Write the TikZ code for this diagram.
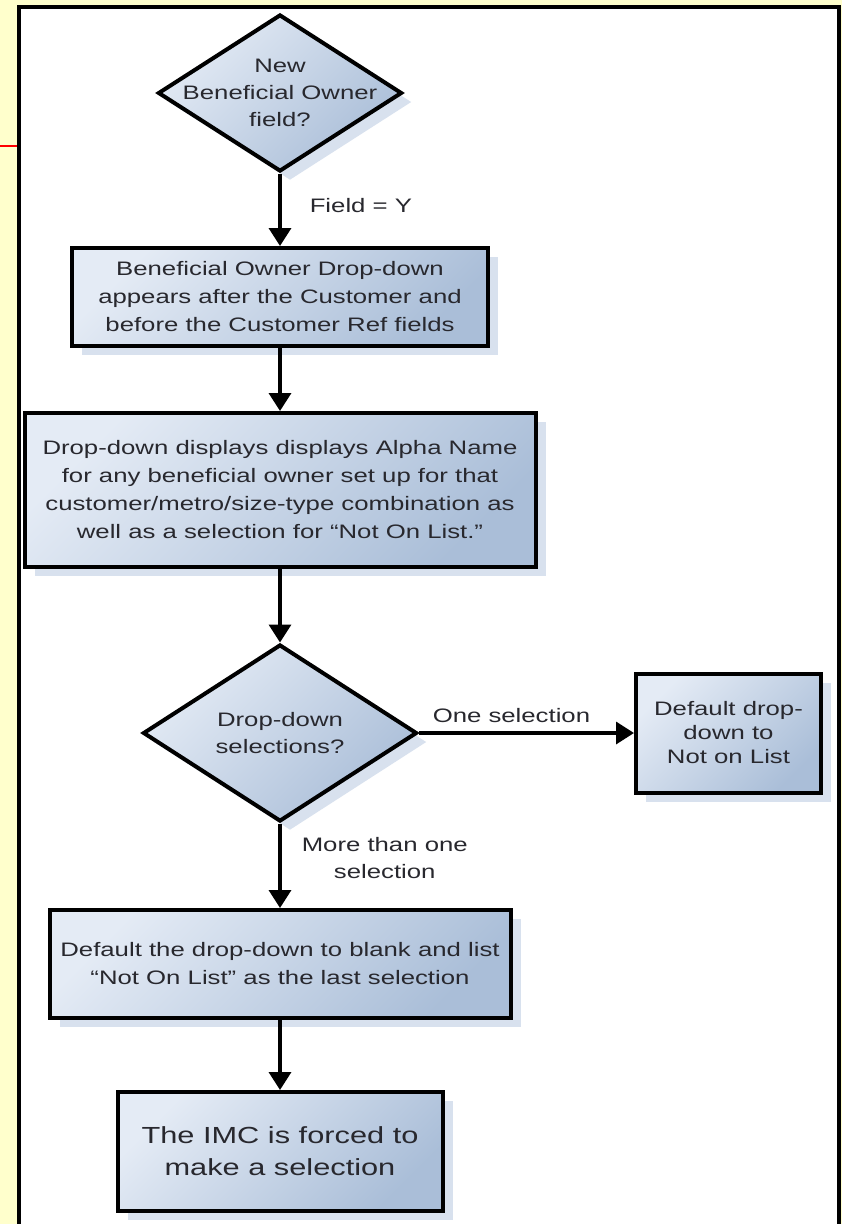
\documentclass[tikz,border=0pt]{standalone}
\usepackage{fontspec}
\setmainfont{Liberation Sans}[FakeStretch=1.32]
\usetikzlibrary{shapes.geometric,arrows.meta,shadows,positioning}

\definecolor{hgGelb}{RGB}{255,255,204}
\definecolor{hgHell}{RGB}{228,235,245}
\definecolor{hgDunkel}{RGB}{170,190,216}
\definecolor{hgSchatten}{RGB}{216,225,238}
\definecolor{hgText}{RGB}{40,40,46}

\tikzset{
	flaeche/.style={draw=black, line width=4pt, top color=hgHell,
		bottom color=hgDunkel, shading angle=45,
		drop shadow={shadow xshift=10pt, shadow yshift=-9pt,
			fill=hgSchatten, opacity=1}},
	schritt/.style={flaeche, rectangle, text=hgText, align=center,
		font=\fontsize{19.5}{28}\selectfont},
	entscheidung/.style={flaeche, diamond, inner sep=0pt},
	innen/.style={text=hgText, align=center, inner sep=0pt,
		font=\fontsize{19.5}{27}\selectfont},
	marke/.style={text=hgText, align=center, inner sep=0pt,
		font=\fontsize{19.5}{27}\selectfont},
	pfeil/.style={line width=3.5pt, -{Triangle[width=22pt,length=18pt]}}
}

\begin{document}
\begin{tikzpicture}[x=1pt, y=-1pt]
	\clip (0,0) rectangle (842,1224);
	% Hintergrund und Rahmen
	\fill[hgGelb] (0,0) rectangle (842,1224);
	\filldraw[fill=white, draw=black, line width=4pt] (18.5,7) rectangle (839,1240);
	\draw[red, line width=2.5pt] (0,146) -- (17,146);

	% Entscheidung oben
	\node[entscheidung, minimum width=244pt, minimum height=157pt] (qneu) at (280,93) {};
	\node[innen] at (qneu) {New\\Beneficial Owner\\field?};

	% Schritte
	\node[schritt, minimum width=416pt, minimum height=98pt] (bodrop) at (280,297)
		{Beneficial Owner Drop-down\\appears after the Customer and\\before the Customer Ref fields};
	\node[schritt, minimum width=511pt, minimum height=154pt] (anzeige) at (280,490)
		{Drop-down displays displays Alpha Name\\for any beneficial owner set up for that\\customer/metro/size-type combination as\\well as a selection for “Not On List.”};

	% Entscheidung Mitte
	\node[entscheidung, minimum width=274pt, minimum height=177pt] (qauswahl) at (280,733) {};
	\node[innen] at (qauswahl) {Drop-down\\selections?};

	\node[schritt, minimum width=185pt, minimum height=119pt,
		font=\fontsize{19.5}{24}\selectfont] (nichtliste) at (728.5,733)
		{Default drop-\\down to\\Not on List};
	\node[schritt, minimum width=461pt, minimum height=108pt] (leer) at (280,964)
		{Default the drop-down to blank and list\\“Not On List” as the last selection};
	\node[schritt, minimum width=325pt, minimum height=119pt,
		font=\fontsize{23.3}{32}\selectfont] (imc) at (280,1151.5)
		{The IMC is forced to\\make a selection};

	% Pfeile
	\draw[pfeil] (qneu) -- node[marke, pos=0.44, right=28pt] {Field = Y} (bodrop);
	\draw[pfeil] (bodrop) -- (anzeige);
	\draw[pfeil] (anzeige) -- (qauswahl);
	\draw[pfeil] (qauswahl) -- node[marke, pos=0.43, above=9pt] {One selection} (nichtliste);
	\draw[pfeil] (qauswahl) -- node[marke, pos=0.41, right=20pt] {More than one\\selection} (leer);
	\draw[pfeil] (leer) -- (imc);
\end{tikzpicture}
\end{document}
